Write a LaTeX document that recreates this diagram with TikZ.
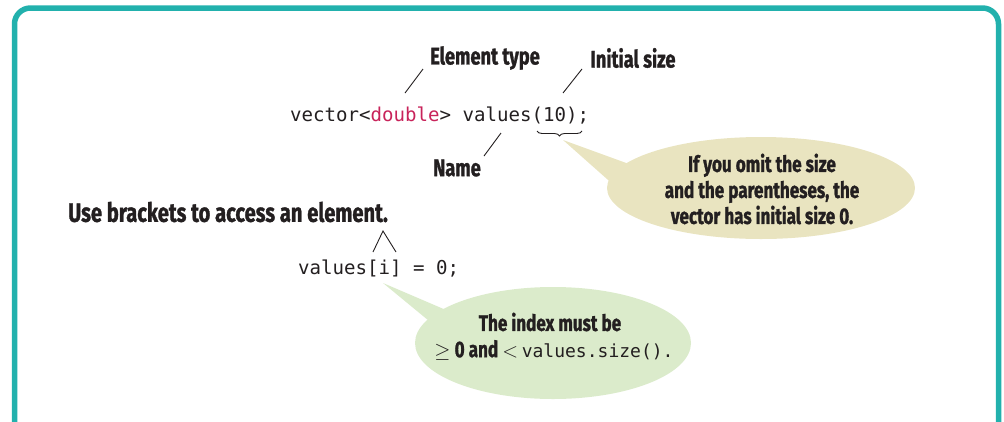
\documentclass[tikz,border=0pt]{standalone}
\usepackage{fontspec}
\usetikzlibrary{decorations.pathreplacing}
\newfontfamily\handfont[FakeStretch=0.76, BoldFeatures={FakeBold=1.2}]{Fira Sans}
\newfontfamily\codefont{DejaVu Sans Mono}
\definecolor{frameteal}{HTML}{22B1AD}
\definecolor{dblred}{HTML}{C8235A}
\definecolor{tanfill}{HTML}{E9E4C0}
\definecolor{greenfill}{HTML}{DBEBCB}
\definecolor{ink}{HTML}{231F20}
\tikzset{
  hand/.style={font=\handfont\bfseries\fontsize{24}{26}\selectfont, text=ink, inner sep=0pt},
  codetext/.style={font=\codefont\fontsize{19.1}{22}\selectfont, text=ink, inner sep=0pt, anchor=base west},
  leader/.style={draw=ink, line width=0.9pt},
}
\begin{document}
\begin{tikzpicture}[x=1pt,y=-1pt]
\useasboundingbox (0,0) rectangle (1004,421);
\clip (0,0) rectangle (1004,421);
\draw[frameteal, line width=5.5pt, rounded corners=16pt] (14.5,8) rectangle (998.5,445);

% top code line
\node[codetext] (code1) at (290,121) {vector<{\color{dblred}double}> values(10);};
\node[hand] (etype) at (485,58) {Element type};
\node[hand] (isize) at (633,58) {Initial size};
\node[hand] (name) at (457,168) {Name};
\coordinate (etA) at (423,69); \coordinate (etB) at (405,93);
\coordinate (isA) at (582,69); \coordinate (isB) at (563,93);
\coordinate (nmA) at (501,133); \coordinate (nmB) at (484,156);
\draw[leader] (etA) -- (etB);
\draw[leader] (isA) -- (isB);
\draw[leader] (nmA) -- (nmB);
\coordinate (brL) at (537,131); \coordinate (brR) at (582,131);
\draw[leader, decorate, decoration={brace, mirror, amplitude=5pt}] (brL) -- (brR);

% tan bubble
\coordinate (tanTip) at (563,140);
\coordinate (tanB1) at (640,168);
\coordinate (tanB2) at (625,195);
\fill[tanfill] (tanTip) -- (tanB1) -- (tanB2) -- cycle;
\fill[tanfill] (761,188) ellipse [x radius=154, y radius=51];
\node[hand, align=center, font=\handfont\bfseries\fontsize{22.5}{26}\selectfont] (tantext) at (762,189)
  {If you omit the size\\and the parentheses, the\\vector has initial size 0.};

% second part
\node[hand, anchor=west, font=\handfont\bfseries\fontsize{26.5}{28}\selectfont] (usebr) at (68,212) {Use brackets to access an element.};
\node[codetext] (code2) at (298,274) {values[i] = 0;};
\coordinate (caL) at (373,252); \coordinate (caT) at (383,231); \coordinate (caR) at (396,252);
\draw[leader] (caL) -- (caT) -- (caR);

% green bubble
\coordinate (grTip) at (383,283);
\coordinate (grB1) at (460,316);
\coordinate (grB2) at (440,330);
\fill[greenfill] (grTip) -- (grB1) -- (grB2) -- cycle;
\fill[greenfill] (553,343) ellipse [x radius=138, y radius=56];
\node[hand, font=\handfont\bfseries\fontsize{22.5}{28}\selectfont] (grtext1) at (550,322) {The index must be};
\node[hand, font=\handfont\bfseries\fontsize{22.5}{28}\selectfont] (grtext2) at (554,350)
  {{\normalfont\fontsize{21}{28}\selectfont$\geq$} 0 and {\normalfont\fontsize{21}{28}\selectfont$<$}\,{\codefont\mdseries\fontsize{18}{28}\selectfont values.size().}};
\end{tikzpicture}
\end{document}
